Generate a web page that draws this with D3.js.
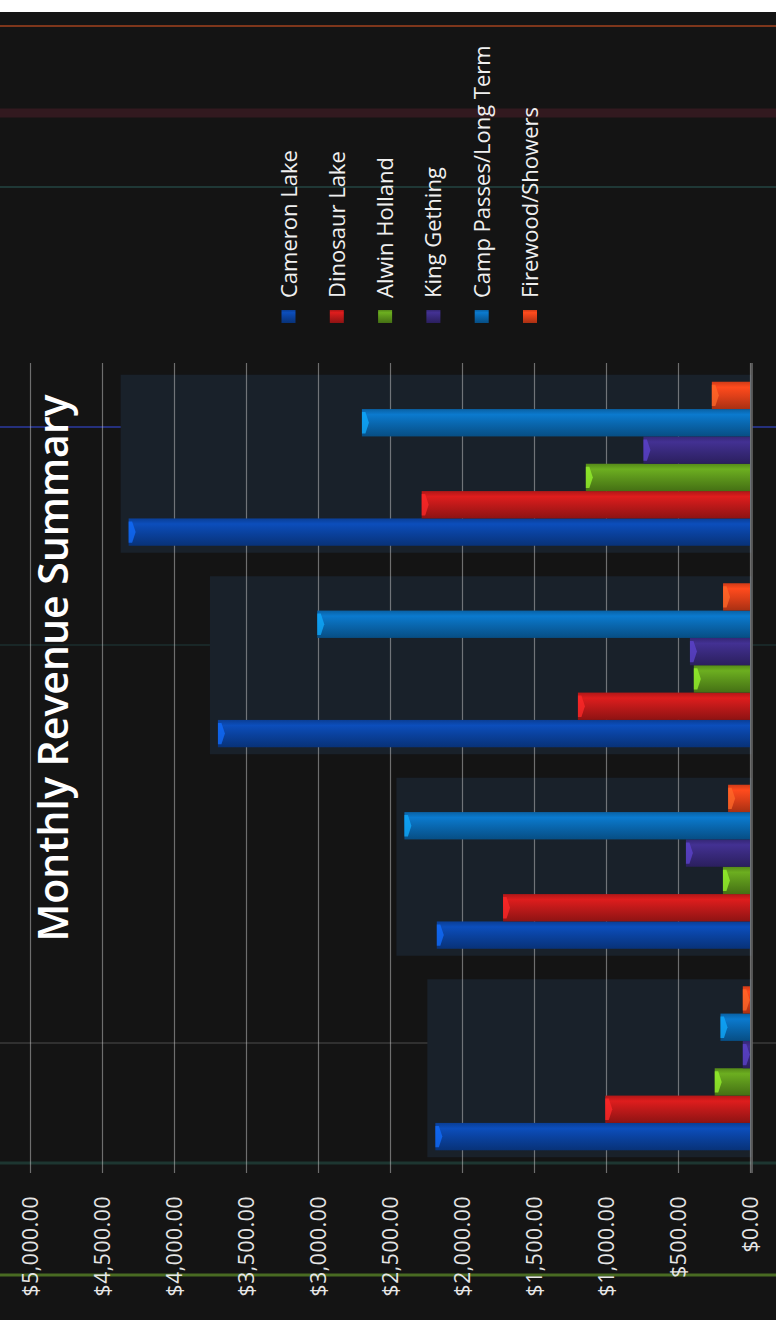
<!DOCTYPE html>
<html>
<head>
<meta charset="utf-8">
<script src="https://cdn.jsdelivr.net/npm/d3@7"></script>
<style>
  html, body { margin: 0; padding: 0; background: #ffffff; }
  svg { display: block; }
</style>
</head>
<body>
<svg id="chart" width="776" height="1320"></svg>
<script>
// ---------------- data ----------------
const months = ["May", "June", "July", "August"];
const seriesNames = ["Cameron Lake", "Dinosaur Lake", "Alwin Holland", "King Gething", "Camp Passes/Long Term", "Firewood/Showers"];
const cameronLake  = [2185, 2175, 3695, 4315];
const dinosaurLake = [1005, 1715, 1195, 2280];
const alwinHolland = [245, 188, 390, 1140];
const kingGething  = [50, 445, 417, 740];
const campPasses   = [205, 2400, 3005, 2695];
const firewood     = [50, 152, 187, 265];
const valueTicks   = [0, 500, 1000, 1500, 2000, 2500, 3000, 3500, 4000, 4500, 5000];
const seriesColors = ["#0b45a6", "#c41a1a", "#5f9a1c", "#3b2b82", "#0a6cb6", "#e8421a"];

const seriesValues = [cameronLake, dinosaurLake, alwinHolland, kingGething, campPasses, firewood];
const table = months.map((m, i) => ({ month: m, values: seriesNames.map((s, j) => ({ key: s, idx: j, value: seriesValues[j][i] })) }));

// ---------------- layout ----------------
const svg = d3.select("#chart");
svg.append("rect").attr("width", 776).attr("height", 1320).attr("fill", "#141414");

const defs = svg.append("defs");
seriesColors.forEach((c, i) => {
  const base = d3.color(c);
  const g = defs.append("linearGradient").attr("id", "grad" + i)
    .attr("x1", 0).attr("y1", 0).attr("x2", 1).attr("y2", 0);
  g.append("stop").attr("offset", "0%").attr("stop-color", base.darker(0.9));
  g.append("stop").attr("offset", "45%").attr("stop-color", base.darker(0.15));
  g.append("stop").attr("offset", "80%").attr("stop-color", base.brighter(0.35));
  g.append("stop").attr("offset", "100%").attr("stop-color", base.darker(0.3));
});

// screen scan-line artefacts (decoration)
const scan = svg.append("g");
[[26, 2, "#8a3a1c", 0.9], [113, 9, "#3a1a22", 0.8], [187, 2, "#203c3a", 0.9],
 [427, 1.5, "#2f3fb0", 0.9], [645, 1.5, "#1f3a3a", 0.7], [1043, 1.5, "#4a4a4a", 0.7],
 [1163, 3, "#1e3a34", 0.9], [1275, 3, "#4f7424", 0.9]].forEach(d => {
  scan.append("rect").attr("x", 0).attr("y", d[0] - d[1] / 2).attr("width", 776).attr("height", d[1])
    .attr("fill", d[2]).attr("opacity", d[3]);
});

// landscape chart rotated onto the portrait page
const g = svg.append("g").attr("transform", "translate(0,1320) rotate(-90)");

const x0 = d3.scaleBand().domain(months).range([151, 957]).paddingInner(0.186).paddingOuter(0.093);
const x1 = d3.scaleBand().domain(seriesNames).range([0, x0.bandwidth()]);
const y = d3.scaleLinear().domain([0, 5000]).range([750, 30]);

// group back panels
g.append("g").selectAll("rect").data(table).join("rect")
  .attr("x", d => x0(d.month) - 7)
  .attr("width", x0.bandwidth() + 14)
  .attr("y", d => y(d3.max(d.values, v => v.value)) - 8)
  .attr("height", d => y(0) - y(d3.max(d.values, v => v.value)) + 10)
  .attr("fill", "#19212a");

// gridlines
const grid = d3.axisLeft(y).tickValues(valueTicks).tickSize(-(957 - 147)).tickFormat("");
g.append("g").attr("transform", "translate(147,0)").call(grid)
  .call(s => s.select(".domain").remove())
  .call(s => s.selectAll("line").attr("stroke", "#c8c8c8").attr("stroke-opacity", 0.5).attr("stroke-width", 1.2));

// value labels
g.append("g").selectAll("text").data(valueTicks).join("text")
  .attr("x", 124).attr("y", d => y(d))
  .attr("text-anchor", "end").attr("dominant-baseline", "central")
  .attr("font-family", "Open Sans").attr("font-size", 21).attr("letter-spacing", 0.6)
  .attr("fill", "#e6e6e6")
  .text(d => "$" + d3.format(",.2f")(d));

// baseline
g.append("line").attr("x1", 147).attr("x2", 957).attr("y1", y(0) + 2).attr("y2", y(0) + 2)
  .attr("stroke", "#6a6a6a").attr("stroke-width", 1.5);

// bars
const groups = g.append("g").selectAll("g").data(table).join("g")
  .attr("transform", d => `translate(${x0(d.month)},0)`);
groups.selectAll("rect.bar").data(d => d.values).join("rect").attr("class", "bar")
  .attr("x", d => x1(d.key)).attr("width", x1.bandwidth())
  .attr("y", d => y(d.value)).attr("height", d => y(0) - y(d.value))
  .attr("fill", d => `url(#grad${d.idx})`);
groups.selectAll("path.cap").data(d => d.values).join("path").attr("class", "cap")
  .attr("d", d => {
    const u0 = x1(d.key) + 3, u1 = x1(d.key) + x1.bandwidth() - 3, v0 = y(d.value);
    const t = Math.min(7, y(0) - v0);
    const um = (u0 + u1) / 2;
    return `M${u0},${v0}L${u1},${v0}L${u1},${v0 + t * 0.5}L${um},${v0 + t}L${u0},${v0 + t * 0.5}Z`;
  })
  .attr("fill", d => d3.color(seriesColors[d.idx]).brighter(1.3))
  .attr("opacity", 0.75);

// title
g.append("text").attr("x", 652).attr("y", 68).attr("text-anchor", "middle")
  .attr("font-family", "Open Sans").attr("font-weight", 600).attr("font-size", 41)
  .attr("fill", "#ffffff").text("Monthly Revenue Summary");

// legend
const legend = g.append("g").selectAll("g").data(seriesNames).join("g")
  .attr("transform", (d, i) => `translate(1022,${296.5 + i * 48.3})`);
legend.append("rect").attr("x", -25).attr("y", -15).attr("width", 13).attr("height", 14)
  .attr("fill", (d, i) => `url(#grad${i})`);
legend.append("text").attr("x", 0).attr("y", 0)
  .attr("font-family", "Open Sans").attr("font-size", 22).attr("fill", "#f0f0f0")
  .text(d => d);

// page edge
svg.append("rect").attr("x", 0).attr("y", 0).attr("width", 776).attr("height", 12).attr("fill", "#ffffff");
</script>
</body>
</html>
